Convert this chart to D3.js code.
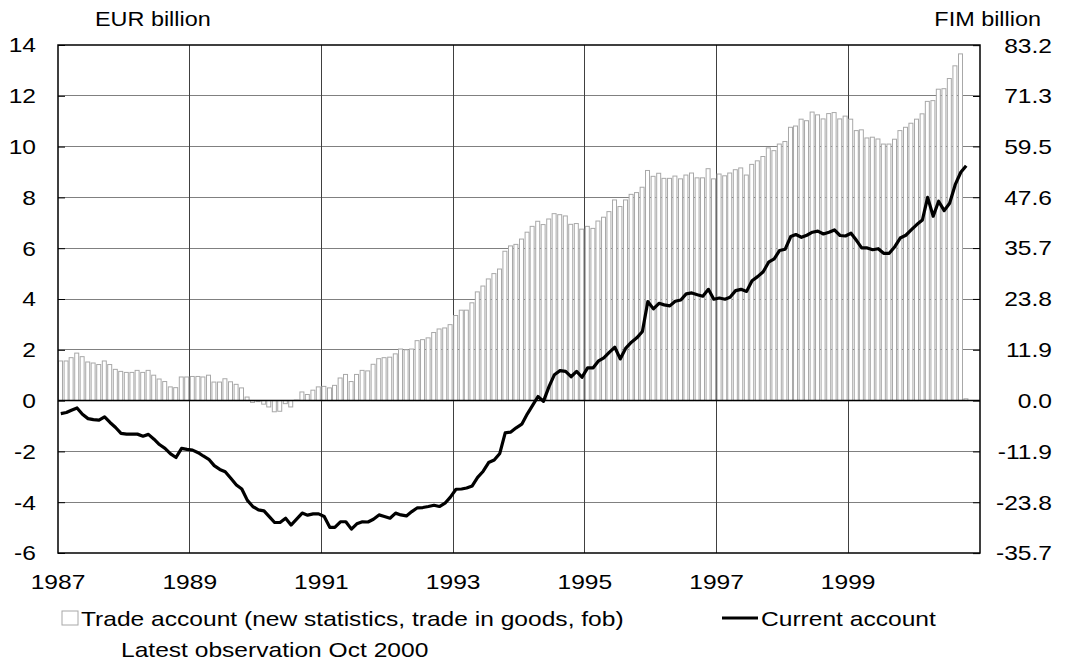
<!DOCTYPE html>
<html>
<head>
<meta charset="utf-8">
<script src="https://cdn.jsdelivr.net/npm/d3@7"></script>
<style>
  html, body { margin: 0; padding: 0; background: #fff; }
  svg text { font-family: "Liberation Sans", Arial, sans-serif; fill: #000; }
</style>
</head>
<body>
<svg id="chart" width="1067" height="664"></svg>
<script>
// monthly data, Jan 1987 .. Oct 2000, EUR billion
const startMonth = new Date(1987, 0, 1);

const tradeAccount = [
    1.56, 1.56, 1.69, 1.87, 1.73, 1.52, 1.48, 1.42, 1.56, 1.42, 1.23, 1.15,
    1.11, 1.11, 1.19, 1.11, 1.19, 1.0, 0.85, 0.75, 0.54, 0.51, 0.93, 0.93,
    0.95, 0.95, 0.93, 1.0, 0.73, 0.73, 0.86, 0.74, 0.64, 0.5, 0.14, -0.07,
    -0.04, -0.14, -0.25, -0.44, -0.42, -0.12, -0.25, 0.02, 0.34, 0.24, 0.41, 0.54,
    0.56, 0.5, 0.6, 0.89, 1.03, 0.75, 1.03, 1.19, 1.17, 1.43, 1.65, 1.69,
    1.71, 1.84, 2.03, 2.0, 2.03, 2.36, 2.4, 2.47, 2.68, 2.82, 2.86, 2.99,
    3.35, 3.56, 3.56, 3.85, 4.28, 4.51, 4.79, 5.0, 5.18, 5.88, 6.09, 6.15,
    6.36, 6.63, 6.86, 7.06, 6.93, 7.15, 7.36, 7.32, 7.27, 6.94, 6.97, 6.75,
    6.86, 6.78, 7.07, 7.22, 7.44, 7.9, 7.64, 7.9, 8.12, 8.19, 8.4, 9.06,
    8.83, 8.95, 8.75, 8.75, 8.84, 8.73, 8.88, 8.96, 8.77, 8.77, 9.13, 8.73,
    8.92, 8.85, 8.96, 9.09, 9.16, 8.88, 9.3, 9.44, 9.61, 9.95, 9.84, 10.1,
    10.2, 10.76, 10.81, 11.08, 11.02, 11.36, 11.25, 11.09, 11.3, 11.34, 11.09, 11.2,
    11.08, 10.63, 10.66, 10.34, 10.37, 10.3, 10.1, 10.1, 10.29, 10.63, 10.76, 10.92,
    11.08, 11.29, 11.78, 11.81, 12.26, 12.28, 12.68, 13.18, 13.65, 0.07
];

const currentAccount = [
    -0.51, -0.47, -0.38, -0.29, -0.54, -0.71, -0.75, -0.77, -0.64, -0.86, -1.06, -1.29,
    -1.32, -1.32, -1.32, -1.4, -1.33, -1.52, -1.73, -1.88, -2.1, -2.24, -1.88, -1.92,
    -1.95, -2.05, -2.18, -2.31, -2.56, -2.71, -2.8, -3.06, -3.32, -3.48, -3.93, -4.17,
    -4.3, -4.34, -4.56, -4.8, -4.8, -4.63, -4.9, -4.67, -4.43, -4.51, -4.46, -4.46,
    -4.56, -4.99, -4.99, -4.77, -4.77, -5.06, -4.85, -4.77, -4.78, -4.67, -4.5, -4.56,
    -4.63, -4.43, -4.5, -4.54, -4.37, -4.22, -4.21, -4.17, -4.12, -4.17, -4.04, -3.8,
    -3.49, -3.48, -3.44, -3.36, -3.02, -2.78, -2.44, -2.34, -2.08, -1.27, -1.24, -1.07,
    -0.93, -0.52, -0.2, 0.16, -0.03, 0.55, 1.02, 1.18, 1.15, 0.94, 1.15, 0.92,
    1.29, 1.29, 1.55, 1.68, 1.9, 2.1, 1.64, 2.07, 2.3, 2.47, 2.72, 3.9,
    3.61, 3.83, 3.77, 3.73, 3.91, 3.96, 4.2, 4.24, 4.17, 4.11, 4.38, 3.99,
    4.04, 3.99, 4.07, 4.33, 4.38, 4.3, 4.72, 4.88, 5.07, 5.45, 5.58, 5.91,
    5.96, 6.46, 6.54, 6.43, 6.51, 6.63, 6.67, 6.56, 6.63, 6.72, 6.5, 6.48,
    6.59, 6.3, 6.01, 6.01, 5.94, 5.98, 5.8, 5.8, 6.06, 6.4, 6.51, 6.72,
    6.93, 7.11, 8.0, 7.26, 7.85, 7.48, 7.77, 8.5, 8.99, 9.25
];

const yearTicks = [1987, 1989, 1991, 1993, 1995, 1997, 1999];
const eurTicks = [-6, -4, -2, 0, 2, 4, 6, 8, 10, 12, 14];
const fimTicks = [-35.7, -23.8, -11.9, 0.0, 11.9, 23.8, 35.7, 47.6, 59.5, 71.3, 83.2];
const fimPerEur = 5.94573;

const legendLabels = ['Trade account (new statistics, trade in goods, fob)', 'Current account'];
const noteText = 'Latest observation Oct 2000';

const months = tradeAccount.map((d, i) => d3.timeMonth.offset(startMonth, i));

const plotLeft = 58, plotRight = 980, plotTop = 45, plotBottom = 553;
const fontSize = 21;
const stretch = 1.17; // the source type is set a little wide
const svg = d3.select('#chart');

// widen a text node in place, keeping its anchor
function widen(sel) {
    sel.each(function () {
        const w = this.getComputedTextLength();
        this.setAttribute('textLength', w * stretch);
        this.setAttribute('lengthAdjust', 'spacingAndGlyphs');
    });
}

const x = d3.scaleTime()
    .domain([new Date(1987, 0, 1), new Date(2001, 0, 1)])
    .range([plotLeft, plotRight]);
const y = d3.scaleLinear().domain([-6, 14]).range([plotBottom, plotTop]);
const yFim = d3.scaleLinear().domain([-6 * fimPerEur, 14 * fimPerEur]).range([plotBottom, plotTop]);

// horizontal grid
svg.append('g')
    .selectAll('line')
    .data(eurTicks.filter(d => d !== 0 && d !== -6 && d !== 14))
    .join('line')
    .attr('x1', plotLeft).attr('x2', plotRight)
    .attr('y1', d => y(d)).attr('y2', d => y(d))
    .attr('stroke', '#808080').attr('stroke-width', 1)
    .attr('shape-rendering', 'crispEdges');

// vertical grid at every second year
svg.append('g')
    .selectAll('line')
    .data(yearTicks.slice(1))
    .join('line')
    .attr('x1', d => x(new Date(d, 0, 1))).attr('x2', d => x(new Date(d, 0, 1)))
    .attr('y1', plotTop).attr('y2', plotBottom)
    .attr('stroke', '#404040').attr('stroke-width', 1)
    .attr('shape-rendering', 'crispEdges');

// trade account bars
const step = x(months[1]) - x(months[0]);
svg.append('g')
    .selectAll('rect')
    .data(tradeAccount)
    .join('rect')
    .attr('x', (d, i) => x(months[i]) + 0.5)
    .attr('width', step - 1.6)
    .attr('y', d => Math.min(y(d), y(0)))
    .attr('height', d => Math.abs(y(d) - y(0)))
    .attr('fill', '#fff')
    .attr('stroke', '#a8a8a8')
    .attr('stroke-width', 1);

// zero line
svg.append('line')
    .attr('x1', plotLeft).attr('x2', plotRight)
    .attr('y1', y(0)).attr('y2', y(0))
    .attr('stroke', '#000').attr('stroke-width', 1.5);

// frame
svg.append('rect')
    .attr('x', plotLeft).attr('y', plotTop)
    .attr('width', plotRight - plotLeft).attr('height', plotBottom - plotTop)
    .attr('fill', 'none').attr('stroke', '#000').attr('stroke-width', 1.5);

// axes, ticks inward
const yAxisL = d3.axisRight(y).tickValues(eurTicks).tickSize(7).tickFormat('');
svg.append('g').attr('transform', `translate(${plotLeft},0)`).call(yAxisL)
    .call(g => g.select('.domain').remove());
const yAxisR = d3.axisLeft(yFim).tickValues(fimTicks).tickSize(7).tickFormat('');
svg.append('g').attr('transform', `translate(${plotRight},0)`).call(yAxisR)
    .call(g => g.select('.domain').remove());

// tick labels
svg.append('g')
    .selectAll('text')
    .data(eurTicks)
    .join('text')
    .attr('x', 36)
    .attr('y', d => y(d))
    .attr('dy', '0.35em')
    .attr('text-anchor', 'end')
    .attr('font-size', fontSize)
    .text(d => d)
    .call(widen);

svg.append('g')
    .selectAll('text')
    .data(fimTicks)
    .join('text')
    .attr('x', 1052)
    .attr('y', d => yFim(d))
    .attr('dy', '0.35em')
    .attr('text-anchor', 'end')
    .attr('font-size', fontSize)
    .text(d => d.toFixed(1))
    .call(widen);

svg.append('g')
    .selectAll('text')
    .data(yearTicks)
    .join('text')
    .attr('x', d => x(new Date(d, 0, 1)))
    .attr('y', 589)
    .attr('text-anchor', 'middle')
    .attr('font-size', fontSize)
    .text(d => d)
    .call(widen);

// current account line
const line = d3.line()
    .x((d, i) => x(months[i]) + step / 2)
    .y(d => y(d));
svg.append('path')
    .attr('d', line(currentAccount))
    .attr('fill', 'none')
    .attr('stroke', '#000')
    .attr('stroke-width', 3.2)
    .attr('stroke-linejoin', 'round');

// units
svg.append('text').attr('x', 95).attr('y', 26).attr('font-size', 20).text('EUR billion').call(widen);
svg.append('text').attr('x', 1041).attr('y', 26).attr('font-size', 20)
    .attr('text-anchor', 'end').text('FIM billion').call(widen);

// legend
svg.append('rect')
    .attr('x', 62).attr('y', 611).attr('width', 16).attr('height', 14)
    .attr('fill', '#fff').attr('stroke', '#a8a8a8');
svg.append('text').attr('x', 81).attr('y', 626).attr('font-size', fontSize)
    .text(legendLabels[0]).call(widen);
svg.append('line')
    .attr('x1', 722).attr('x2', 758).attr('y1', 618).attr('y2', 618)
    .attr('stroke', '#000').attr('stroke-width', 3.2);
svg.append('text').attr('x', 761).attr('y', 626).attr('font-size', fontSize)
    .text(legendLabels[1]).call(widen);
svg.append('text').attr('x', 121).attr('y', 657).attr('font-size', fontSize)
    .text(noteText).call(widen);
</script>
</body>
</html>
